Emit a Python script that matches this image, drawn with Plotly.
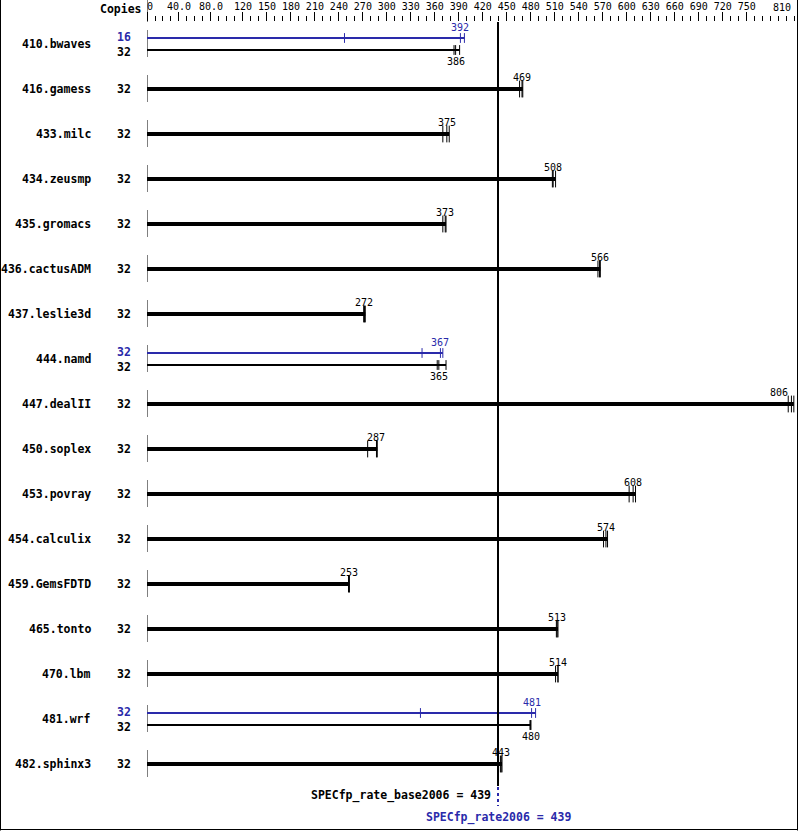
import plotly.graph_objects as go

# ---------------- data ----------------
benchmarks = ["410.bwaves", "416.gamess", "433.milc", "434.zeusmp", "435.gromacs",
              "436.cactusADM", "437.leslie3d", "444.namd", "447.dealII", "450.soplex",
              "453.povray", "454.calculix", "459.GemsFDTD", "465.tonto", "470.lbm",
              "481.wrf", "482.sphinx3"]
base_copies = [32, 32, 32, 32, 32, 32, 32, 32, 32, 32, 32, 32, 32, 32, 32, 32, 32]
base_median = [386, 469, 375, 508, 373, 566, 272, 365, 806, 287, 608, 574, 253, 513, 514, 480, 443]
base_runs = [[384, 386, 391], [466, 469, 470], [370, 375, 378], [507, 508, 511],
             [370, 373, 374], [564, 566, 567], [271, 272, 273], [363, 365, 374],
             [802, 806, 809], [276, 287, 288], [603, 608, 611], [571, 574, 576],
             [252, 253, 253], [512, 513, 514], [511, 514, 514], [479, 480, 480],
             [442, 443, 444]]
peak_benchmarks = ["410.bwaves", "444.namd", "481.wrf"]
peak_copies = [16, 32, 32]
peak_median = [392, 367, 481]
peak_runs = [[247, 392, 397], [344, 367, 370], [342, 481, 486]]

tick_values = [0, 40, 80, 120, 150, 180, 210, 240, 270, 300, 330, 360, 390, 420, 450,
               480, 510, 540, 570, 600, 630, 660, 690, 720, 750, 810]
tick_labels = ["\u00a00", "40.0", "80.0", "120", "150", "180", "210", "240", "270", "300",
               "330", "360", "390", "420", "450", "480", "510", "540", "570", "600", "630",
               "660", "690", "720", "750", "810"]
minor_values = list(range(0, 820, 10))

spec_base = 439
spec_peak = 439

# ---------------- styling / geometry ----------------
W, H = 799, 831
L, R, T, B = 147, 4, 22, 23
PW = W - L - R
PH = H - T - B
ROW = 45.0
Y0 = -(44 - T) / ROW
Y1 = Y0 + PH / ROW
XMAX = PW / ((498 - 147) / 439.0)

BLUE = "#2a2aaa"
MONO = "DejaVu Sans Mono"


def px(p):
    """pixel offset -> y data units"""
    return p / ROW


def ypaper(pix):
    """absolute pixel row -> paper y"""
    return 1 - (pix - T) / PH


def value_label(x, y, text, color):
    # labels that would run past the right frame are right-aligned to their value
    if x > XMAX - 12:
        anchor, shift = "right", -1
    else:
        anchor, shift = "center", 0
    return dict(xref="x", yref="y", x=x, y=y, xanchor=anchor, xshift=shift,
                yanchor="middle", text=text, showarrow=False,
                font=dict(family=MONO, size=10, color=color))


fig = go.Figure()
annotations = []

# per-row left axis ticks
lx, ly = [], []
for i in range(len(benchmarks)):
    lx += [0, 0, None]
    ly += [i - px(14), i + px(13), None]
fig.add_trace(go.Scatter(x=lx, y=ly, mode="lines", line=dict(color="black", width=1),
                         hoverinfo="skip"))

peak_index = {b: k for k, b in enumerate(peak_benchmarks)}
COPIES_X = (124 - L) / PW

for i, name in enumerate(benchmarks):
    annotations.append(dict(xref="paper", yref="y", x=(93 - L) / PW, y=i, xanchor="right",
                            yanchor="middle", text="<b>%s</b>" % name, showarrow=False,
                            font=dict(family=MONO, size=11.5, color="black")))
    runs = base_runs[i]
    if name in peak_index:
        k = peak_index[name]
        yp = i - px(6)
        yb = i + px(6)
        # peak
        fig.add_trace(go.Scatter(x=[0, max(peak_runs[k])], y=[yp, yp], mode="lines",
                                 line=dict(color=BLUE, width=2), hoverinfo="skip"))
        fig.add_trace(go.Scatter(x=peak_runs[k], y=[yp] * 3, mode="markers",
                                 marker=dict(symbol="line-ns", size=7,
                                             line=dict(color=BLUE, width=1)),
                                 hoverinfo="skip"))
        annotations.append(value_label(peak_median[k], yp - px(11), str(peak_median[k]), BLUE))
        annotations.append(dict(xref="paper", yref="y", x=COPIES_X, y=yp - px(1),
                                xanchor="center", yanchor="middle",
                                text="<b>%d</b>" % peak_copies[k], showarrow=False,
                                font=dict(family=MONO, size=11.5, color=BLUE)))
        # base
        fig.add_trace(go.Scatter(x=[0, max(runs)], y=[yb, yb], mode="lines",
                                 line=dict(color="black", width=2), hoverinfo="skip"))
        fig.add_trace(go.Scatter(x=runs, y=[yb] * 3, mode="markers",
                                 marker=dict(symbol="line-ns", size=7,
                                             line=dict(color="black", width=1)),
                                 hoverinfo="skip"))
        annotations.append(value_label(base_median[i], yb + px(11), str(base_median[i]), "black"))
        annotations.append(dict(xref="paper", yref="y", x=COPIES_X, y=yb + px(2),
                                xanchor="center", yanchor="middle",
                                text="<b>%d</b>" % base_copies[i], showarrow=False,
                                font=dict(family=MONO, size=11.5, color="black")))
    else:
        fig.add_trace(go.Scatter(x=[0, max(runs)], y=[i, i], mode="lines",
                                 line=dict(color="black", width=4), hoverinfo="skip"))
        fig.add_trace(go.Scatter(x=runs, y=[i] * 3, mode="markers",
                                 marker=dict(symbol="line-ns", size=12,
                                             line=dict(color="black", width=1)),
                                 hoverinfo="skip"))
        annotations.append(value_label(base_median[i], i - px(12), str(base_median[i]), "black"))
        annotations.append(dict(xref="paper", yref="y", x=COPIES_X, y=i,
                                xanchor="center", yanchor="middle",
                                text="<b>%d</b>" % base_copies[i], showarrow=False,
                                font=dict(family=MONO, size=11.5, color="black")))

# reference lines
fig.add_trace(go.Scatter(x=[spec_base, spec_base], y=[Y0, Y0 + px(786 - T)], mode="lines",
                         line=dict(color="black", width=2), hoverinfo="skip"))
fig.add_trace(go.Scatter(x=[spec_peak, spec_peak], y=[Y0 + px(787 - T), Y0 + px(806 - T)],
                         mode="lines", line=dict(color=BLUE, width=2, dash="dot"),
                         hoverinfo="skip"))
annotations.append(dict(xref="x", yref="paper", x=spec_base, xshift=-5, y=ypaper(795),
                        xanchor="right", yanchor="middle",
                        text="<b>SPECfp_rate_base2006 = %d</b>" % spec_base, showarrow=False,
                        font=dict(family=MONO, size=11.5, color="black")))
annotations.append(dict(xref="x", yref="paper", x=spec_peak, y=ypaper(817),
                        xanchor="center", yanchor="middle",
                        text="<b>SPECfp_rate2006 = %d</b>" % spec_peak, showarrow=False,
                        font=dict(family=MONO, size=11.5, color=BLUE)))

# last tick label sits left of its tick (kept inside the frame)
annotations.append(dict(xref="x", yref="paper", x=tick_values[-1], xshift=-2, y=ypaper(7),
                        xanchor="right", yanchor="middle", text=tick_labels[-1],
                        showarrow=False, font=dict(family=MONO, size=10, color="black")))
axis_ticktext = tick_labels[:-1] + [""]

# header
annotations.append(dict(xref="paper", yref="paper", x=(121 - L) / PW, y=ypaper(9),
                        xanchor="center", yanchor="middle", text="<b>Copies</b>",
                        showarrow=False, font=dict(family=MONO, size=11.5, color="black")))

shapes = [
    # vertical line at x=0 through the axis header
    dict(type="line", xref="x", yref="paper", x0=0, x1=0, y0=1, y1=ypaper(0),
         line=dict(color="black", width=1)),
    # outer border
    dict(type="line", xref="paper", yref="paper", x0=(0.5 - L) / PW, x1=(0.5 - L) / PW,
         y0=ypaper(0), y1=ypaper(H - 0.5), line=dict(color="black", width=1)),
    dict(type="line", xref="paper", yref="paper", x0=(W - 1.5 - L) / PW, x1=(W - 1.5 - L) / PW,
         y0=ypaper(0), y1=ypaper(H - 0.5), line=dict(color="black", width=1)),
    dict(type="line", xref="paper", yref="paper", x0=(0.5 - L) / PW, x1=(W - 1.5 - L) / PW,
         y0=ypaper(H - 1.5), y1=ypaper(H - 1.5), line=dict(color="black", width=1)),
]

fig.update_layout(
    width=W, height=H,
    margin=dict(l=L, r=R, t=T, b=B, pad=0, autoexpand=False),
    paper_bgcolor="white", plot_bgcolor="white",
    showlegend=False,
    annotations=annotations,
    shapes=shapes,
    xaxis=dict(range=[0, XMAX], side="top", showgrid=False, zeroline=False, showline=False,
               automargin=False, ticklabeloverflow="allow", ticklabelstandoff=-2,
               tickmode="array", tickvals=tick_values, ticktext=axis_ticktext,
               ticks="outside", ticklen=9, tickwidth=1, tickcolor="black",
               tickfont=dict(family=MONO, size=10, color="black"),
               minor=dict(tickmode="array", tickvals=minor_values, ticks="outside",
                          ticklen=5, tickwidth=1, tickcolor="black", showgrid=False),
               fixedrange=True),
    yaxis=dict(range=[Y1, Y0], visible=False, fixedrange=True, automargin=False),
)

fig.write_html("out.html", config={"displayModeBar": False},
               post_script="document.body.style.margin='0';document.body.style.padding='0';"
                           "document.documentElement.style.overflow='hidden';")
